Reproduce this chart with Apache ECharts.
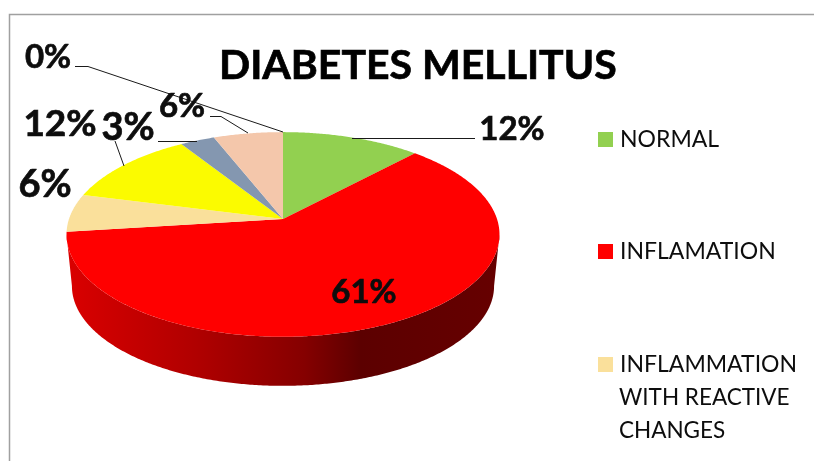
<!DOCTYPE html>
<html>
<head>
<meta charset="utf-8">
<style>html,body{margin:0;padding:0;background:#fff;overflow:hidden}#c{width:814px;height:461px}</style>
<script src="https://cdn.jsdelivr.net/npm/echarts@6/dist/echarts.min.js"></script>
</head>
<body>
<div id="c"></div>
<script>
const titleText = 'DIABETES MELLITUS';
const categories = ['NORMAL', 'INFLAMATION', 'INFLAMMATION\nWITH REACTIVE\nCHANGES', 'Category 4', 'Category 5', 'Category 6', 'Category 7'];
const percents = [12, 61, 6, 12, 3, 6, 0];
const colors = ['#92D050', '#FF0000', '#FAE09B', '#FBFB00', '#8497B0', '#F4C7AB', '#BFBFBF'];

// Manually placed data labels and leader lines, as in the reference (style only, not values)
const labelPlaces = [
  {x: 512, y: 129, size: 33, line: [[475, 138.5], [352, 138.5]]},
  {x: 364, y: 292, size: 33, line: null},
  {x: 45, y: 185, size: 38, line: null},
  {x: 60, y: 124, size: 37, line: [[115, 141], [124, 166]]},
  {x: 128, y: 128, size: 38, line: [[158, 141.5], [197, 141.5]]},
  {x: 182, y: 106, size: 33, line: [[210, 116.5], [221, 116.5], [248, 133]]},
  {x: 48, y: 57, size: 33, line: [[75, 66.5], [88, 66.5], [283, 132]]}
];

// Perspective disc projection
const disc = {cx: 283, apexY: 219, a: 214, b: 100, k: 0.151, depthY: 52, baseScale: 0.975};
function project(deg, scale, apexY) {
  const t = deg * Math.PI / 180, u = Math.sin(t), v = Math.cos(t), d = 1 + disc.k * v;
  return [disc.cx + scale * disc.a * u / d, apexY - scale * disc.b * v / d];
}
const frontFrom = Math.acos(-disc.k) * 180 / Math.PI;
const frontTo = 360 - frontFrom;
const sideGradient = {
  type: 'linear', x: 67, y: 0, x2: 499, y2: 0, global: true,
  colorStops: [
    {offset: 0, color: '#DA0000'}, {offset: 0.3, color: '#B00000'},
    {offset: 0.55, color: '#850000'}, {offset: 0.68, color: '#5C0000'}, {offset: 1, color: '#660000'}
  ]
};
const total = percents.reduce((a, b) => a + b, 0);
let running = 0;
const series = categories.map((name, i) => {
  const start = running;
  running += percents[i];
  return {
    type: 'custom', name, coordinateSystem: 'none',
    itemStyle: {color: colors[i]},
    silent: true, animation: false,
    data: [[percents[i], start]],
    renderItem(params, api) {
      const val = api.value(0);
      const a0 = api.value(1) / total * 360, a1 = a0 + val / total * 360;
      const children = [];
      if (val > 0) {
        const pts = [[disc.cx, disc.apexY]];
        for (let d = a0; d < a1; d += 0.5) pts.push(project(d, 1, disc.apexY));
        pts.push(project(a1, 1, disc.apexY));
        children.push({type: 'polygon', z2: 5, shape: {points: pts}, style: {fill: colors[i]}});
        const s0 = Math.max(a0, frontFrom), s1 = Math.min(a1, frontTo);
        if (s1 > s0) {
          const top = [], base = [];
          for (let d = s0; d < s1; d += 0.5) {
            top.push(project(d, 1, disc.apexY));
            base.push(project(d, disc.baseScale, disc.apexY + disc.depthY));
          }
          top.push(project(s1, 1, disc.apexY));
          base.push(project(s1, disc.baseScale, disc.apexY + disc.depthY));
          children.push({type: 'polygon', z2: 1, shape: {points: top.concat(base.reverse())}, style: {fill: sideGradient}});
        }
      }
      const place = labelPlaces[i];
      if (place.line) {
        children.push({type: 'polyline', z2: 10, shape: {points: place.line}, style: {fill: null, stroke: '#1a1a1a', lineWidth: 1}});
      }
      children.push({type: 'text', z2: 11, style: {
        text: val + '%', x: place.x, y: place.y, textAlign: 'center', textVerticalAlign: 'middle',
        fill: '#0D0D0D', stroke: '#0D0D0D', lineWidth: 0.7, font: 'bold ' + place.size + 'px Lato'
      }});
      return {type: 'group', children};
    }
  };
});

const legendBase = {
  orient: 'vertical', left: 598, padding: 0,
  itemWidth: 15, itemHeight: 15, icon: 'rect', selectedMode: false,
  textStyle: {fontFamily: 'Lato', fontSize: 23, color: '#0D0D0D', lineHeight: 33, padding: [0, 0, 0, 2]}
};
const thirdLines = categories[2].split('\n');

const chart = echarts.init(document.getElementById('c'), null, {renderer: 'canvas'});
chart.setOption({
  animation: false,
  backgroundColor: '#fff',
  title: {
    text: titleText, left: 219, top: 45,
    textStyle: {fontFamily: 'Lato', fontWeight: 'bold', fontSize: 41, color: '#000', textBorderColor: '#000', textBorderWidth: 0.7},
    padding: 0
  },
  legend: [
    Object.assign({}, legendBase, {top: 123, data: [categories[0]]}),
    Object.assign({}, legendBase, {top: 235, data: [categories[1]]}),
    Object.assign({}, legendBase, {top: 348, data: [categories[2]], formatter: () => thirdLines[0]})
  ],
  graphic: [{
    type: 'rect', silent: true, z: 0,
    shape: {x: 9.5, y: 14.5, width: 902, height: 600},
    style: {fill: null, stroke: '#A0A0A0', lineWidth: 1.5}
  }, {
    type: 'text', silent: true, left: 619, top: 381,
    style: {text: thirdLines.slice(1).join('\n'), fill: '#0D0D0D', font: '22.5px Lato', lineHeight: 33}
  }],
  series
});
</script>
</body>
</html>
